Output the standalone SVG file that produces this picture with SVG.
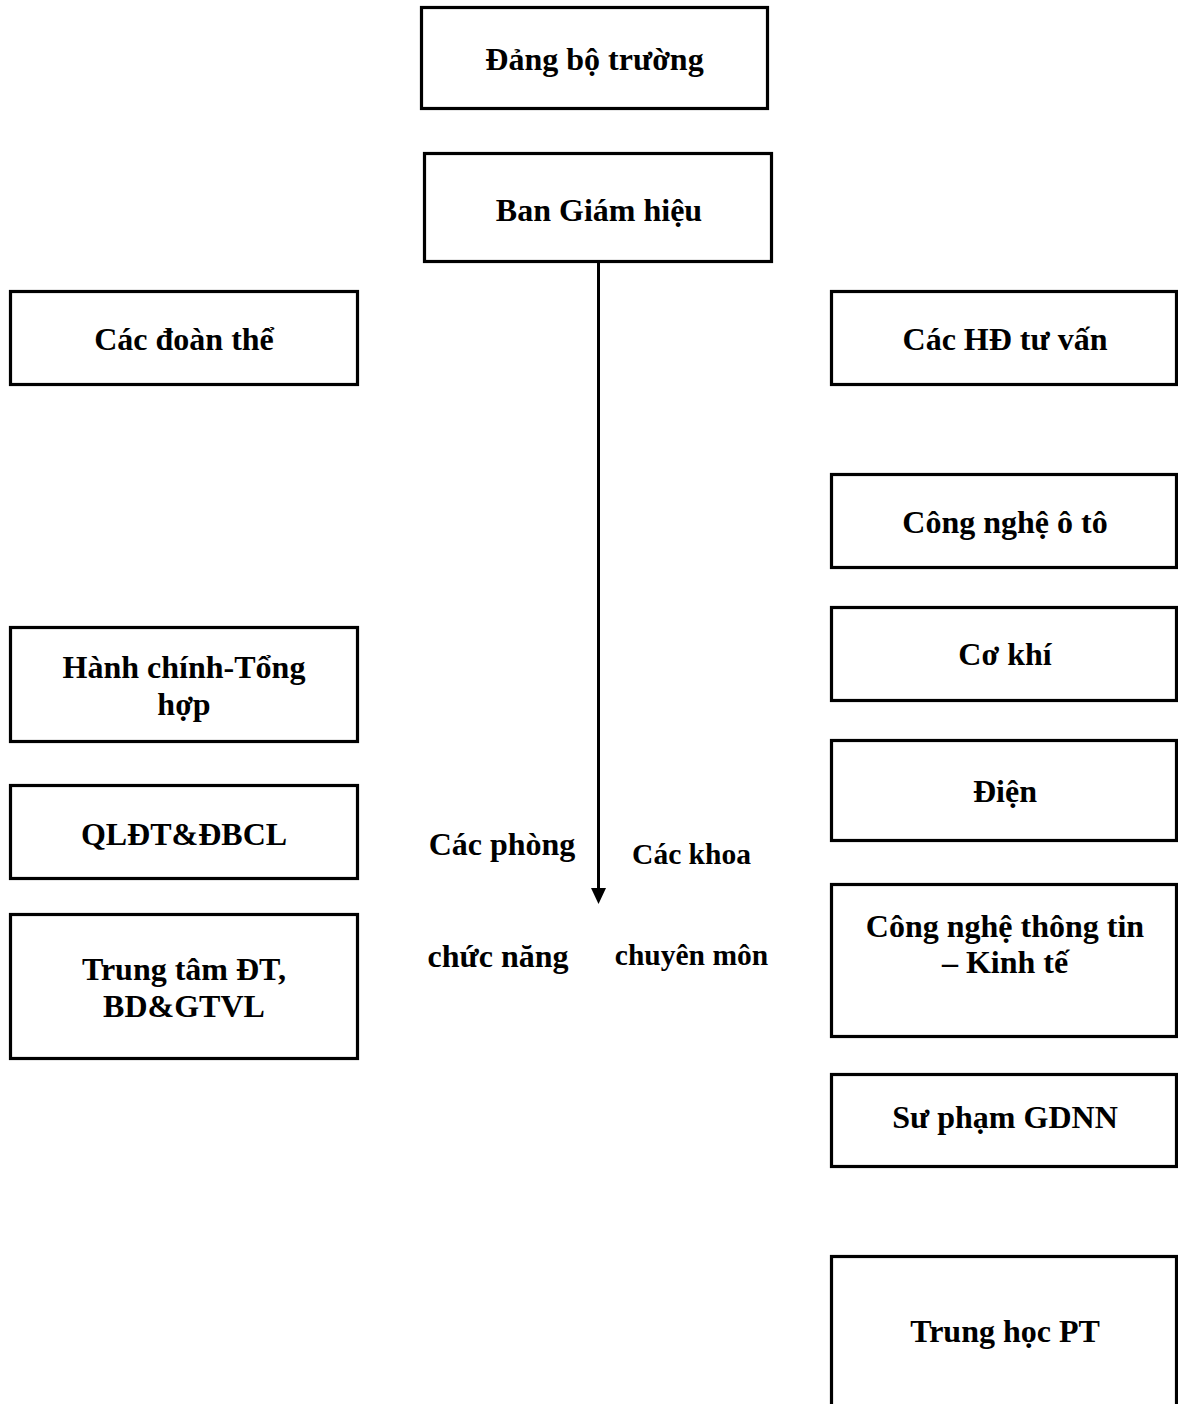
<svg xmlns="http://www.w3.org/2000/svg" width="1178" height="1404" viewBox="0 0 1178 1404">
<style>
.box{fill:#fff;stroke:#000;stroke-width:3.2}
text{font-family:"Liberation Serif","Times New Roman",serif;font-weight:bold;fill:#000;text-anchor:middle}
.t{font-size:32px}
.s{font-size:29.5px}
</style>
<rect width="1178" height="1404" fill="#fff"/>
<g id="connectors">
<line x1="598.5" y1="263" x2="598.5" y2="890" stroke="#000" stroke-width="3"/>
<polygon points="591,888 606,888 598.5,904" fill="#000"/>
</g>
<g id="dang-bo"><rect class="box" x="421.5" y="7.5" width="346" height="101"/><text class="t" x="594.5" y="70">Đảng bộ trường</text></g>
<g id="ban-giam-hieu"><rect class="box" x="424.5" y="153.5" width="347" height="108"/><text class="t" x="599" y="221">Ban Giám hiệu</text></g>
<g id="doan-the"><rect class="box" x="10.5" y="291.5" width="347" height="93"/><text class="t" x="184" y="350">Các đoàn thể</text></g>
<g id="hd-tu-van"><rect class="box" x="831.5" y="291.5" width="345" height="93"/><text class="t" x="1005" y="350">Các HĐ tư vấn</text></g>
<g id="cn-oto"><rect class="box" x="831.5" y="474.5" width="345" height="93"/><text class="t" x="1005" y="533">Công nghệ ô tô</text></g>
<g id="co-khi"><rect class="box" x="831.5" y="607.5" width="345" height="93"/><text class="t" x="1005" y="665">Cơ khí</text></g>
<g id="hanh-chinh"><rect class="box" x="10.5" y="627.5" width="347" height="114"/><text class="t" x="184" y="678">Hành chính-Tổng</text><text class="t" x="184" y="715">hợp</text></g>
<g id="dien"><rect class="box" x="831.5" y="740.5" width="345" height="100"/><text class="t" x="1005" y="802">Điện</text></g>
<g id="qldt"><rect class="box" x="10.5" y="785.5" width="347" height="93"/><text class="t" x="184" y="845">QLĐT&amp;ĐBCL</text></g>
<g id="phong-label"><text class="t" x="502" y="855">Các phòng</text><text class="t" x="498" y="967">chức năng</text></g>
<g id="khoa-label"><text class="s" x="691.5" y="864">Các khoa</text><text class="s" x="691.5" y="965">chuyên môn</text></g>
<g id="cntt"><rect class="box" x="831.5" y="884.5" width="345" height="152"/><text class="t" x="1005" y="937">Công nghệ thông tin</text><text class="t" x="1005" y="973">– Kinh tế</text></g>
<g id="trung-tam"><rect class="box" x="10.5" y="914.5" width="347" height="144"/><text class="t" x="184" y="980">Trung tâm ĐT,</text><text class="t" x="184" y="1017">BD&amp;GTVL</text></g>
<g id="su-pham"><rect class="box" x="831.5" y="1074.5" width="345" height="92"/><text class="t" x="1005" y="1128">Sư phạm GDNN</text></g>
<g id="thpt"><rect class="box" x="831.5" y="1256.5" width="345" height="160"/><text class="t" x="1005" y="1342">Trung học PT</text></g>
</svg>
